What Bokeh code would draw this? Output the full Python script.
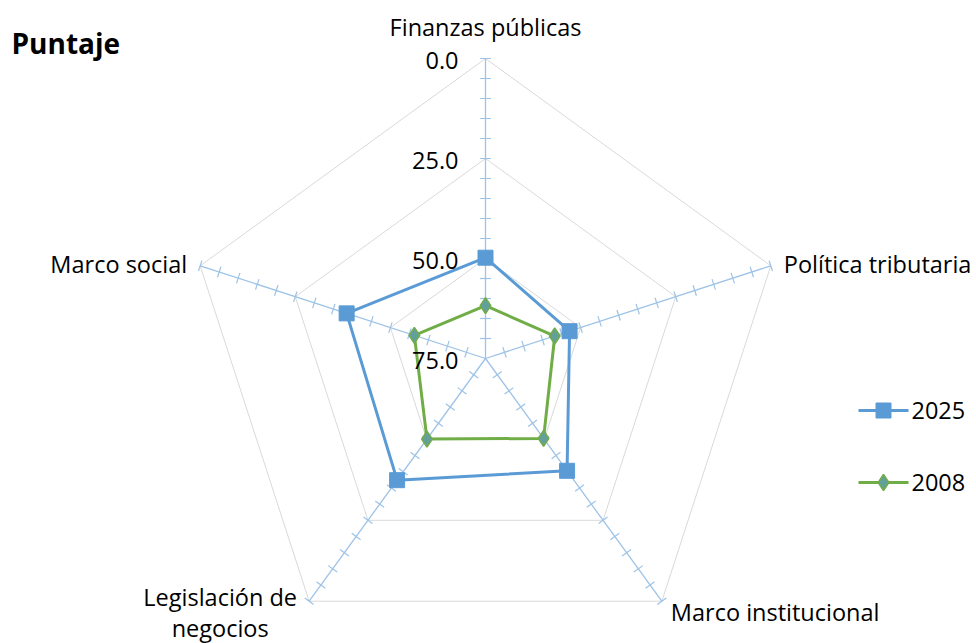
import numpy as np
from bokeh.plotting import figure
from bokeh.models import Range1d
from bokeh.core.properties import value
from bokeh.embed import file_html
from bokeh.resources import INLINE

# ---- data ----
categories = ["Finanzas públicas", "Política tributaria", "Marco institucional",
              "Legislación de\nnegocios", "Marco social"]
series_2025 = [49.8, 52.9, 40.3, 37.4, 38.5]
series_2008 = [61.8, 56.8, 50.3, 50.1, 56.3]
tick_values = [0.0, 25.0, 50.0, 75.0]
axis_min, axis_max = 0.0, 75.0   # reversed: min at the rim, max at the centre
minor_step = 5.0
series_names = ["2025", "2008"]

W, H = 976, 643
CX, CY = 485, 285     # centre in plot coordinates
R = 300.0
FONT = "Open Sans"
FS = "23.5px"

p = figure(width=W, height=H, output_backend="svg", toolbar_location=None,
           x_range=Range1d(0, W), y_range=Range1d(0, H), min_border=0)
p.axis.visible = False
p.grid.visible = False
p.outline_line_color = None

n = len(categories)
angles = np.pi / 2 - 2 * np.pi * np.arange(n) / n


def radius(v):
    return R * (axis_max - np.asarray(v, dtype=float)) / (axis_max - axis_min)


def xy(vals):
    r = radius(vals)
    return CX + r * np.cos(angles), CY + r * np.sin(angles)


# grid pentagons (at major ticks except centre)
for tv in tick_values[:-1]:
    gx, gy = xy([tv] * n)
    p.line(list(gx) + [gx[0]], list(gy) + [gy[0]], line_color="#D9D9D9", line_width=1)

# spokes
for a in angles:
    p.line([CX, CX + R * np.cos(a)], [CY, CY + R * np.sin(a)], line_color="#9DC3E6", line_width=1.3)

# tick marks along each spoke
tvals = np.arange(axis_min, axis_max, minor_step)
xs, ys = [], []
L = 5.5
for a in angles:
    ux, uy = np.cos(a), np.sin(a)
    px_, py_ = -uy, ux
    for tv in tvals:
        r = float(radius(tv))
        bx, by = CX + r * ux, CY + r * uy
        xs.append([bx - L * px_, bx + L * px_])
        ys.append([by - L * py_, by + L * py_])
p.multi_line(xs, ys, line_color="#9DC3E6", line_width=1.2)

# series
colors = ["#5B9BD5", "#70AD47"]
for name, vals, col in zip(series_names, [series_2025, series_2008], colors):
    sx, sy = xy(vals)
    p.line(list(sx) + [sx[0]], list(sy) + [sy[0]], line_color=col, line_width=3, line_join="round")
    if name == "2025":
        p.scatter(sx, sy, marker="square", size=15, fill_color="#5B9BD5", line_color="#5B9BD5")
    else:
        p.scatter(sx, sy, marker="diamond", size=16, fill_color="#63A09C", line_color="#70AD47", line_width=1.5)

# tick labels along top spoke
ty = [float(CY + radius(v)) for v in tick_values]
p.text([CX - 27] * len(tick_values), [y - 2 for y in ty], text=[f"{v:.1f}" for v in tick_values],
       text_align="right", text_baseline="middle", text_font=value(FONT), text_font_size=FS,
       text_color="#000000")

# category labels
vx, vy = xy([axis_min] * n)
lab = dict(text_font=value(FONT), text_font_size=FS, text_color="#000000", text_baseline="middle")
p.text([vx[0]], [vy[0] + 32], text=[categories[0]], text_align="center", **lab)
p.text([vx[1] + 13], [vy[1] + 2], text=[categories[1]], text_align="left", **lab)
p.text([vx[2] + 9], [vy[2] - 11], text=[categories[2]], text_align="left", **lab)
p.text([vx[3] - 89], [vy[3] + 4], text=[categories[3].split("\n")[0]], text_align="center", **lab)
p.text([vx[3] - 89], [vy[3] - 27], text=[categories[3].split("\n")[1]], text_align="center", **lab)
p.text([vx[4] - 13], [vy[4] + 2], text=[categories[4]], text_align="right", **lab)

# title
p.text([11], [H - 42], text=["Puntaje"], text_align="left", text_baseline="middle",
       text_font=value(FONT), text_font_size="28px", text_font_style="bold", text_color="#000000")

# legend
leg_y = [H - 410, H - 482]
for i, (name, col) in enumerate(zip(series_names, colors)):
    p.line([858, 908], [leg_y[i], leg_y[i]], line_color=col, line_width=3)
    if name == "2025":
        p.scatter([883], [leg_y[i]], marker="square", size=15, fill_color="#5B9BD5", line_color="#5B9BD5")
    else:
        p.scatter([883], [leg_y[i]], marker="diamond", size=16, fill_color="#63A09C", line_color="#70AD47", line_width=1.5)
    p.text([911], [leg_y[i]], text=[name], text_align="left", text_baseline="middle",
           text_font=value(FONT), text_font_size=FS, text_color="#000000")

open("out.html", "w").write(file_html(p, INLINE))
